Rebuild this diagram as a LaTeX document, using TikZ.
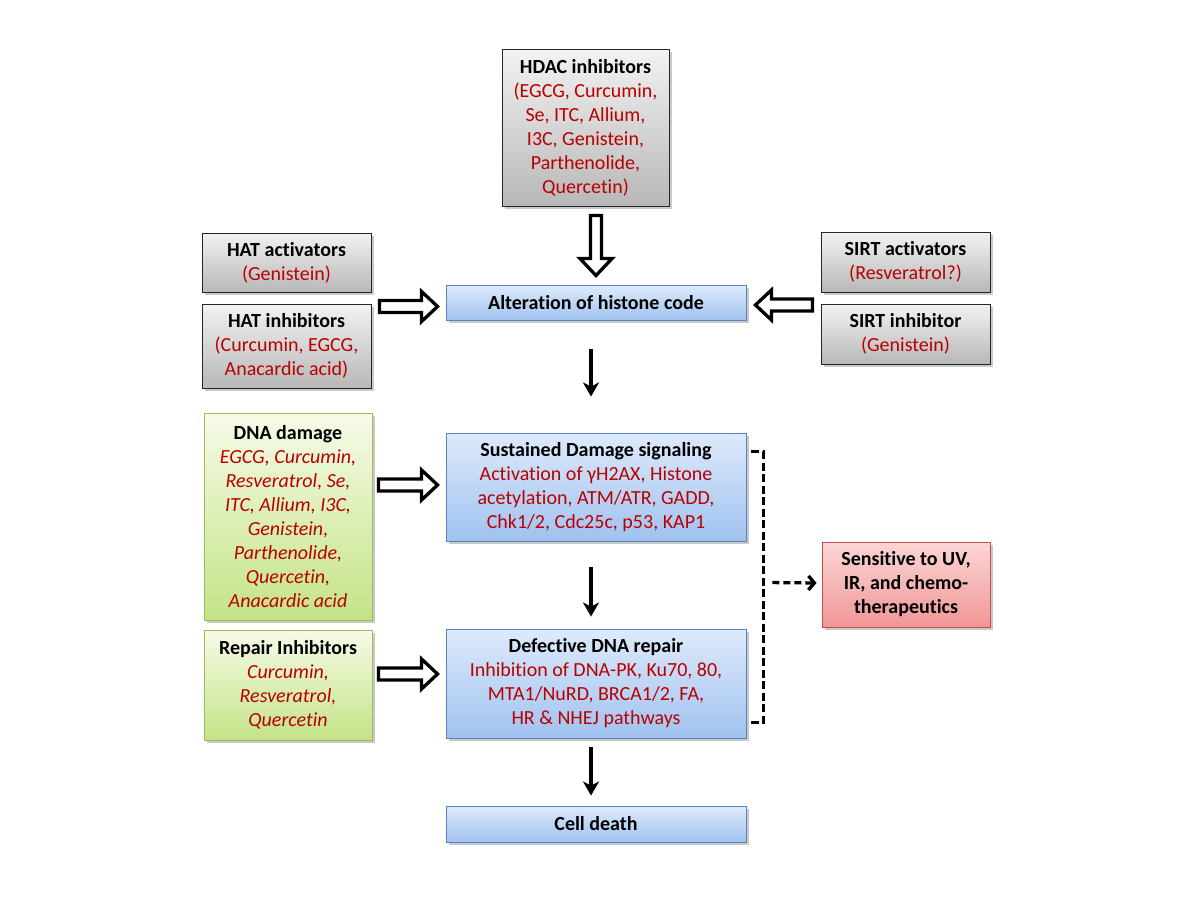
\documentclass[tikz,border=0pt]{standalone}
\usepackage{fontspec}
\setmainfont{Carlito}[Ligatures=NoCommon]
\usetikzlibrary{shadows,calc,arrows.meta}
\definecolor{txtred}{RGB}{185,0,0}
\definecolor{bluetop}{RGB}{222,234,251}
\definecolor{bluebot}{RGB}{160,194,240}
\definecolor{blueedge}{RGB}{90,130,190}
\definecolor{greentop}{RGB}{246,251,232}
\definecolor{greenbot}{RGB}{196,227,135}
\definecolor{greenedge}{RGB}{155,187,89}
\definecolor{pinktop}{RGB}{252,214,214}
\definecolor{pinkbot}{RGB}{240,150,150}
\definecolor{pinkedge}{RGB}{192,80,77}
\newcommand\redtxt[1]{\textcolor{txtred}{#1}}
\newcommand\redit[1]{\textcolor{txtred}{\itshape #1}}
\begin{document}
\begin{tikzpicture}[x=1pt,y=-1pt,
  box/.style={align=center, inner sep=0pt, font=\fontsize{20}{24}\selectfont,
    drop shadow={shadow xshift=2.5pt, shadow yshift=-2.5pt, opacity=0.35, fill=black!60}},
  graybox/.style={box, draw=black!85, line width=0.9pt, top color=black!5, bottom color=black!28},
  bluebox/.style={box, draw=blueedge, line width=0.9pt, top color=bluetop, bottom color=bluebot},
  greenbox/.style={box, draw=greenedge, line width=0.9pt, top color=greentop, bottom color=greenbot},
  pinkbox/.style={box, draw=pinkedge, line width=0.9pt, top color=pinktop, bottom color=pinkbot},
  hollowR/.style={draw=black, line width=3.3pt, fill=white, line join=miter,
    to path={let \p1=(\tikztostart), \p2=(\tikztotarget) in
      (\x1,\y1+6pt) -- (\x2-16pt,\y1+6pt) -- (\x2-16pt,\y1+15pt) -- (\x2,\y1)
      -- (\x2-16pt,\y1-15pt) -- (\x2-16pt,\y1-6pt) -- (\x1,\y1-6pt) -- cycle}},
  hollowL/.style={draw=black, line width=3.3pt, fill=white, line join=miter,
    to path={let \p1=(\tikztostart), \p2=(\tikztotarget) in
      (\x1,\y1+6pt) -- (\x2+16pt,\y1+6pt) -- (\x2+16pt,\y1+15pt) -- (\x2,\y1)
      -- (\x2+16pt,\y1-15pt) -- (\x2+16pt,\y1-6pt) -- (\x1,\y1-6pt) -- cycle}},
  hollowD/.style={draw=black, line width=3.3pt, fill=white, line join=miter,
    to path={let \p1=(\tikztostart), \p2=(\tikztotarget) in
      (\x1-5.5pt,\y1) -- (\x1-5.5pt,\y2+17pt) -- (\x1-16pt,\y2+17pt) -- (\x1,\y2)
      -- (\x1+16pt,\y2+17pt) -- (\x1+5.5pt,\y2+17pt) -- (\x1+5.5pt,\y1) -- cycle}},
  arr/.style={draw=black, line width=3.2pt, -{Stealth[length=14pt,width=16pt,inset=4pt]}},
  bracket/.style={draw=black, line width=3.3pt, dash pattern=on 8pt off 3.5pt},
  darr/.style={draw=black, line width=3.3pt, dash pattern=on 7pt off 4pt,
    -{Straight Barb[length=6pt,width=14pt,line width=3.3pt]}}
]
\useasboundingbox[fill=white] (0,0) rectangle (1200,900);

% nodes
\node[graybox, minimum width=167, minimum height=157] (hdac) at (585.5,127.5)
  {\textbf{HDAC inhibitors}\\\redtxt{(EGCG, Curcumin,}\\\redtxt{Se, ITC, Allium,}\\\redtxt{I3C, Genistein,}\\\redtxt{Parthenolide,}\\\redtxt{Quercetin)}};
\node[bluebox, minimum width=300, minimum height=35] (alt) at (596,302.5)
  {\textbf{Alteration of histone code}};
\node[graybox, minimum width=169, minimum height=59] (hatact) at (286.5,262.5)
  {\textbf{HAT activators}\\\redtxt{(Genistein)}};
\node[graybox, minimum width=169, minimum height=84] (hatin) at (286.5,346)
  {\textbf{HAT inhibitors}\\\redtxt{(Curcumin, EGCG,}\\\redtxt{Anacardic acid)}};
\node[graybox, minimum width=169, minimum height=60] (sirtact) at (905.5,262)
  {\textbf{SIRT activators}\\\redtxt{(Resveratrol?)}};
\node[graybox, minimum width=169, minimum height=60] (sirtin) at (905.5,334)
  {\textbf{SIRT inhibitor}\\\redtxt{(Genistein)}};
\node[greenbox, minimum width=168, minimum height=207] (dna) at (288,516.5)
  {\textbf{DNA damage}\\\redit{EGCG, Curcumin,}\\\redit{Resveratrol, Se,}\\\redit{ITC, Allium, I3C,}\\\redit{Genistein,}\\\redit{Parthenolide,}\\\redit{Quercetin,}\\\redit{Anacardic acid}};
\node[greenbox, minimum width=168, minimum height=110] (repair) at (288,685)
  {\textbf{Repair Inhibitors}\\\redit{Curcumin,}\\\redit{Resveratrol,}\\\redit{Quercetin}};
\node[bluebox, minimum width=300, minimum height=108] (sus) at (596,487)
  {\textbf{Sustained Damage signaling}\\\redtxt{Activation of γH2AX, Histone}\\\redtxt{acetylation, ATM/ATR, GADD,}\\\redtxt{Chk1/2, Cdc25c, p53, KAP1}};
\node[bluebox, minimum width=300, minimum height=109] (def) at (596,683.5)
  {\textbf{Defective DNA repair}\\\redtxt{Inhibition of DNA-PK, Ku70, 80,}\\\redtxt{MTA1/NuRD, BRCA1/2, FA,}\\\redtxt{HR \& NHEJ pathways}};
\node[bluebox, minimum width=300, minimum height=36] (cell) at (596,824)
  {\textbf{Cell death}};
\node[pinkbox, minimum width=168, minimum height=85] (sens) at (906,584.5)
  {\textbf{Sensitive to UV,}\\\textbf{IR, and chemo-}\\\textbf{therapeutics}};

% hollow arrows
\coordinate (h1s) at ($(hdac.south -| alt.north)+(0,9)$);
\coordinate (h1e) at ($(alt.north)+(0,-9)$);
\path[hollowD] (h1s) to (h1e);
\coordinate (h2s) at ($(hatact.east)+(8,44)$);
\coordinate (h2e) at ($(alt.west)+(-8,4)$);
\path[hollowR] (h2s) to (h2e);
\coordinate (h3s) at ($(sirtact.west)+(-8,43)$);
\coordinate (h3e) at ($(alt.east)+(9,3)$);
\path[hollowL] (h3s) to (h3e);
\coordinate (h4s) at ($(dna.east |- sus.west)+(6,-2)$);
\coordinate (h4e) at ($(sus.west)+(-8,-2)$);
\path[hollowR] (h4s) to (h4e);
\coordinate (h5s) at ($(repair.east |- def.west)+(6,-9.5)$);
\coordinate (h5e) at ($(def.west)+(-8,-9.5)$);
\path[hollowR] (h5s) to (h5e);

% black arrows
\draw[arr] ($(alt.south)+(-5,29)$) -- ($(sus.north)+(-5,-36)$);
\draw[arr] ($(sus.south)+(-5,26)$) -- ($(def.north)+(-5,-12)$);
\draw[arr] ($(def.south)+(-5,9)$) -- ($(cell.north)+(-5,-10)$);

% bracket and dashed arrow
\coordinate (b1) at ($(sus.north east)+(5,19)$);
\coordinate (b2) at ($(def.south east)+(5,-16)$);
\draw[bracket] (b1) -- ++(12,0) |- (b2);
\coordinate (bm) at ($(b1)+(21,131)$);
\draw[darr] (bm) -- ($(sens.west)+(-5,-1.5)$);
\end{tikzpicture}
\end{document}
